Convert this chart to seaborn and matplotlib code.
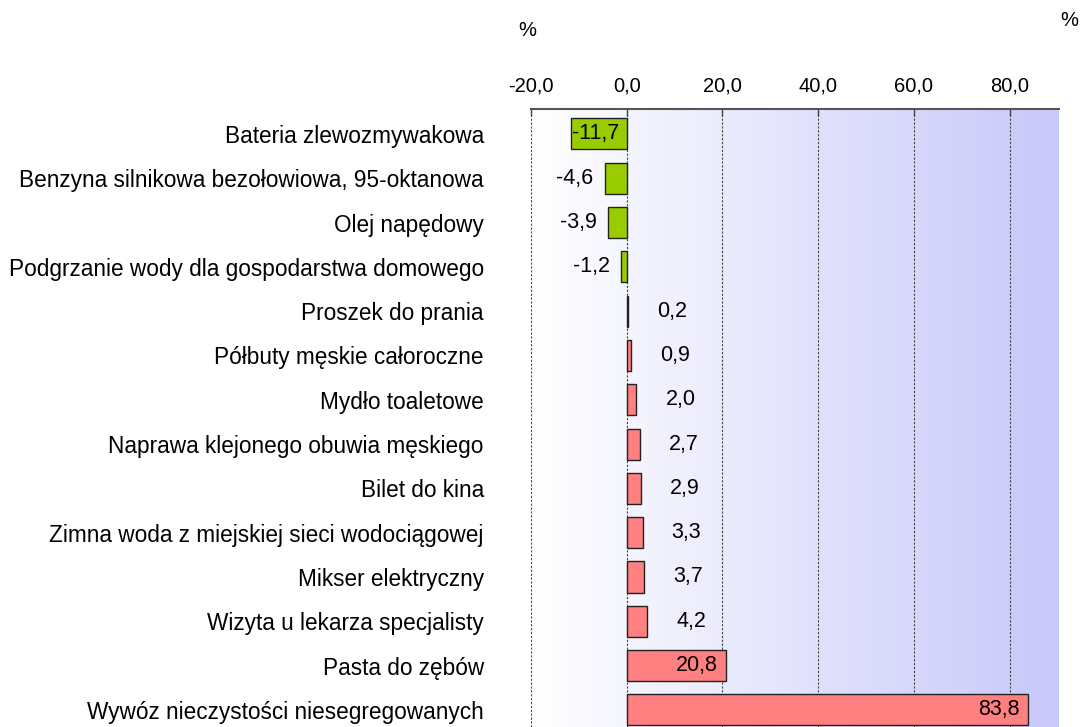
import numpy as np
import matplotlib
matplotlib.use('Agg')
import matplotlib.pyplot as plt
import seaborn as sns

# dane z wykresu
kategorie = [
    'Bateria zlewozmywakowa',
    'Benzyna silnikowa bezołowiowa, 95-oktanowa',
    'Olej napędowy',
    'Podgrzanie wody dla gospodarstwa domowego',
    'Proszek do prania',
    'Półbuty męskie całoroczne',
    'Mydło toaletowe',
    'Naprawa klejonego obuwia męskiego',
    'Bilet do kina',
    'Zimna woda z miejskiej sieci wodociągowej',
    'Mikser elektryczny',
    'Wizyta u lekarza specjalisty',
    'Pasta do zębów',
    'Wywóz nieczystości niesegregowanych',
]
wartosci = [-11.7, -4.6, -3.9, -1.2, 0.2, 0.9, 2.0, 2.7, 2.9, 3.3, 3.7, 4.2, 20.8, 83.8]
ticki = [-20, 0, 20, 40, 60, 80]

sns.set_style('white')
plt.rcParams['font.family'] = ['Liberation Sans', 'DejaVu Sans']
plt.rcParams['font.size'] = 14
plt.rcParams['text.color'] = 'black'
plt.rcParams['xtick.color'] = 'black'
plt.rcParams['ytick.color'] = 'black'

fig = plt.figure(figsize=(10.8, 7.27), dpi=100)
ax = fig.add_axes([531 / 1080, 0, 528 / 1080, 1 - 109 / 727])

kolory = ['#99cc00' if v < 0 else '#ff8080' for v in wartosci]

# tlo z gradientem
xmin, xmax = -20, 90.3
ymin, ymax = 13.386, -0.564
grad = np.linspace(0, 1, 256).reshape(1, -1)
cmap = matplotlib.colors.LinearSegmentedColormap.from_list('tlo', ['#ffffff', '#c8c8fa'])
ax.imshow(grad, extent=[xmin, xmax, ymin, ymax], aspect='auto', cmap=cmap, zorder=0)

sns.barplot(x=wartosci, y=kategorie, hue=kategorie, palette=kolory, legend=False,
            orient='h', width=0.7, edgecolor='#222222', linewidth=1, saturation=1,
            ax=ax, zorder=3)

ax.set_xlim(xmin, xmax)
ax.set_ylim(ymin, ymax)

for t in ticki:
    ax.axvline(t, color='#444444', linestyle=(0, (2, 1.5)), linewidth=0.8, zorder=1)

# etykiety wartosci
for i, v in enumerate(wartosci):
    txt = f'{v:.1f}'.replace('.', ',')
    if v < -10:
        ax.annotate(txt, (v, i), xytext=(1, 0), textcoords='offset points',
                    ha='left', va='center', zorder=4, fontsize=15.5)
    elif v > 10:
        ax.annotate(txt, (v, i), xytext=(-6, 0), textcoords='offset points',
                    ha='right', va='center', zorder=4, fontsize=15.5)
    elif v < 0:
        ax.annotate(txt, (v, i), xytext=(-8, 0), textcoords='offset points',
                    ha='right', va='center', zorder=4, fontsize=15.5)
    else:
        ax.annotate(txt, (v, i), xytext=(21, 0), textcoords='offset points',
                    ha='left', va='center', zorder=4, fontsize=15.5)

ax.xaxis.tick_top()
ax.set_xticks(ticki)
ax.set_xticklabels([f'{t:.1f}'.replace('.', ',') for t in ticki])
ax.tick_params(axis='x', direction='in', length=5, width=1, color='#444444', pad=10, labelsize=14.5)
ax.tick_params(axis='y', length=0, pad=34, labelsize=16.3)
ax.set_xlabel('')
ax.set_ylabel('')

for s in ['bottom', 'left', 'right']:
    ax.spines[s].set_visible(False)
ax.spines['top'].set_color('#555555')
ax.spines['top'].set_linewidth(1.5)

fig.text(527 / 1080, 1 - 30 / 727, '%', ha='center', va='center', fontsize=14.5)
fig.text(1069 / 1080, 1 - 21 / 727, '%', ha='center', va='center', fontsize=14.5)

fig.savefig('out.png', dpi=100)
